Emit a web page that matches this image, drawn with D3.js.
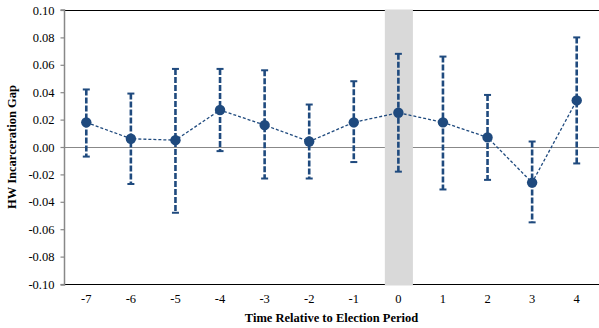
<!DOCTYPE html>
<html><head><meta charset="utf-8">
<script src="https://cdn.jsdelivr.net/npm/d3@7"></script>
<style>body{margin:0;background:#fff}svg{display:block}</style>
</head><body>
<svg id="c" width="599" height="328"></svg>
<script>
const periods = [-7,-6,-5,-4,-3,-2,-1,0,1,2,3,4];
const estimate = [0.018,0.006,0.005,0.027,0.016,0.004,0.018,0.025,0.018,0.007,-0.026,0.034];
const upper = [0.042,0.039,0.057,0.057,0.056,0.031,0.048,0.068,0.066,0.038,0.004,0.080];
const lower = [-0.007,-0.027,-0.048,-0.003,-0.023,-0.023,-0.011,-0.018,-0.031,-0.024,-0.055,-0.012];
const yTicks = [-0.10,-0.08,-0.06,-0.04,-0.02,0.00,0.02,0.04,0.06,0.08,0.10];
const highlight = 0;

const svg = d3.select("#c");
const L = 64, R = 599, T = 10, B = 284;
const color = "#1f4a7e";
const font = "'Liberation Serif','Times New Roman',serif";

const x = d3.scaleBand().domain(periods).range([L, R]);
const y = d3.scaleLinear().domain([-0.10, 0.10]).range([B, T]);

svg.append("line").attr("x1", L).attr("x2", R).attr("y1", T + 0.5).attr("y2", T + 0.5)
  .attr("stroke", "#000").attr("stroke-width", 1.2);
svg.append("line").attr("x1", L).attr("x2", R).attr("y1", B + 0.5).attr("y2", B + 0.5)
  .attr("stroke", "#000").attr("stroke-width", 1.2);
svg.append("line").attr("x1", L).attr("x2", R).attr("y1", y(0) + 0.5).attr("y2", y(0) + 0.5)
  .attr("stroke", "#888").attr("stroke-width", 1.2);

const bw = x.bandwidth() * 0.63;
svg.append("rect")
  .attr("x", x(highlight) + x.bandwidth() / 2 - bw / 2 + 0.5)
  .attr("y", T - 0.5).attr("width", bw).attr("height", B - T + 2)
  .attr("fill", "#d9d9d9");

const yAxis = d3.axisLeft(y).tickValues(yTicks).tickFormat(d3.format(".2f")).tickSize(4).tickPadding(6);
const ga = svg.append("g").attr("transform", `translate(${L + 0.5},0)`).call(yAxis);
ga.select(".domain").attr("stroke", "#888").attr("stroke-width", 1.5).attr("d", `M-4,${T}H0V${B + 1}H-4`);
ga.selectAll(".tick line").attr("stroke", "#888").attr("stroke-width", 1.2);
ga.selectAll(".tick text").attr("font-family", font).attr("font-size", 12.5).attr("fill", "#000")
  .text(d => d === 0 ? "0.00" : d3.format(".2f")(d).replace("−", "-"));

const xAxis = d3.axisBottom(x).tickSize(0).tickPadding(10).tickFormat(d => String(d));
const gx = svg.append("g").attr("transform", `translate(0,${B})`).call(xAxis);
gx.select(".domain").remove();
gx.selectAll(".tick text").attr("font-family", font).attr("font-size", 12.5).attr("fill", "#000");

svg.append("text").attr("x", (L + R) / 2).attr("y", 322).attr("text-anchor", "middle")
  .attr("font-family", font).attr("font-weight", "bold").attr("font-size", 12.5)
  .text("Time Relative to Election Period");
svg.append("text").attr("transform", `translate(16,${(T + B) / 2}) rotate(-90)`).attr("text-anchor", "middle")
  .attr("font-family", font).attr("font-weight", "bold").attr("font-size", 12.5)
  .text("HW Incarceration Gap");

const cx = d => x(d) + x.bandwidth() / 2;
const data = periods.map((p, i) => ({p, e: estimate[i], u: upper[i], l: lower[i]}));

const eb = svg.append("g");
eb.selectAll("line.err").data(data).enter().append("line")
  .attr("x1", d => cx(d.p)).attr("x2", d => cx(d.p))
  .attr("y1", d => y(d.u)).attr("y2", d => y(d.l))
  .attr("stroke", color).attr("stroke-width", 2.6).attr("stroke-dasharray", "6,2");
["u", "l"].forEach(k => {
  eb.selectAll("line.cap" + k).data(data).enter().append("line")
    .attr("x1", d => cx(d.p) - 3.5).attr("x2", d => cx(d.p) + 3.5)
    .attr("y1", d => y(d[k])).attr("y2", d => y(d[k]))
    .attr("stroke", color).attr("stroke-width", 2);
});

const line = d3.line().x(d => cx(d.p)).y(d => y(d.e));
svg.append("path").datum(data).attr("d", line).attr("fill", "none")
  .attr("stroke", color).attr("stroke-width", 1.3).attr("stroke-dasharray", "3,2");

svg.selectAll("circle.pt").data(data).enter().append("circle")
  .attr("cx", d => cx(d.p)).attr("cy", d => y(d.e)).attr("r", 5.2).attr("fill", color);
</script>
</body></html>
